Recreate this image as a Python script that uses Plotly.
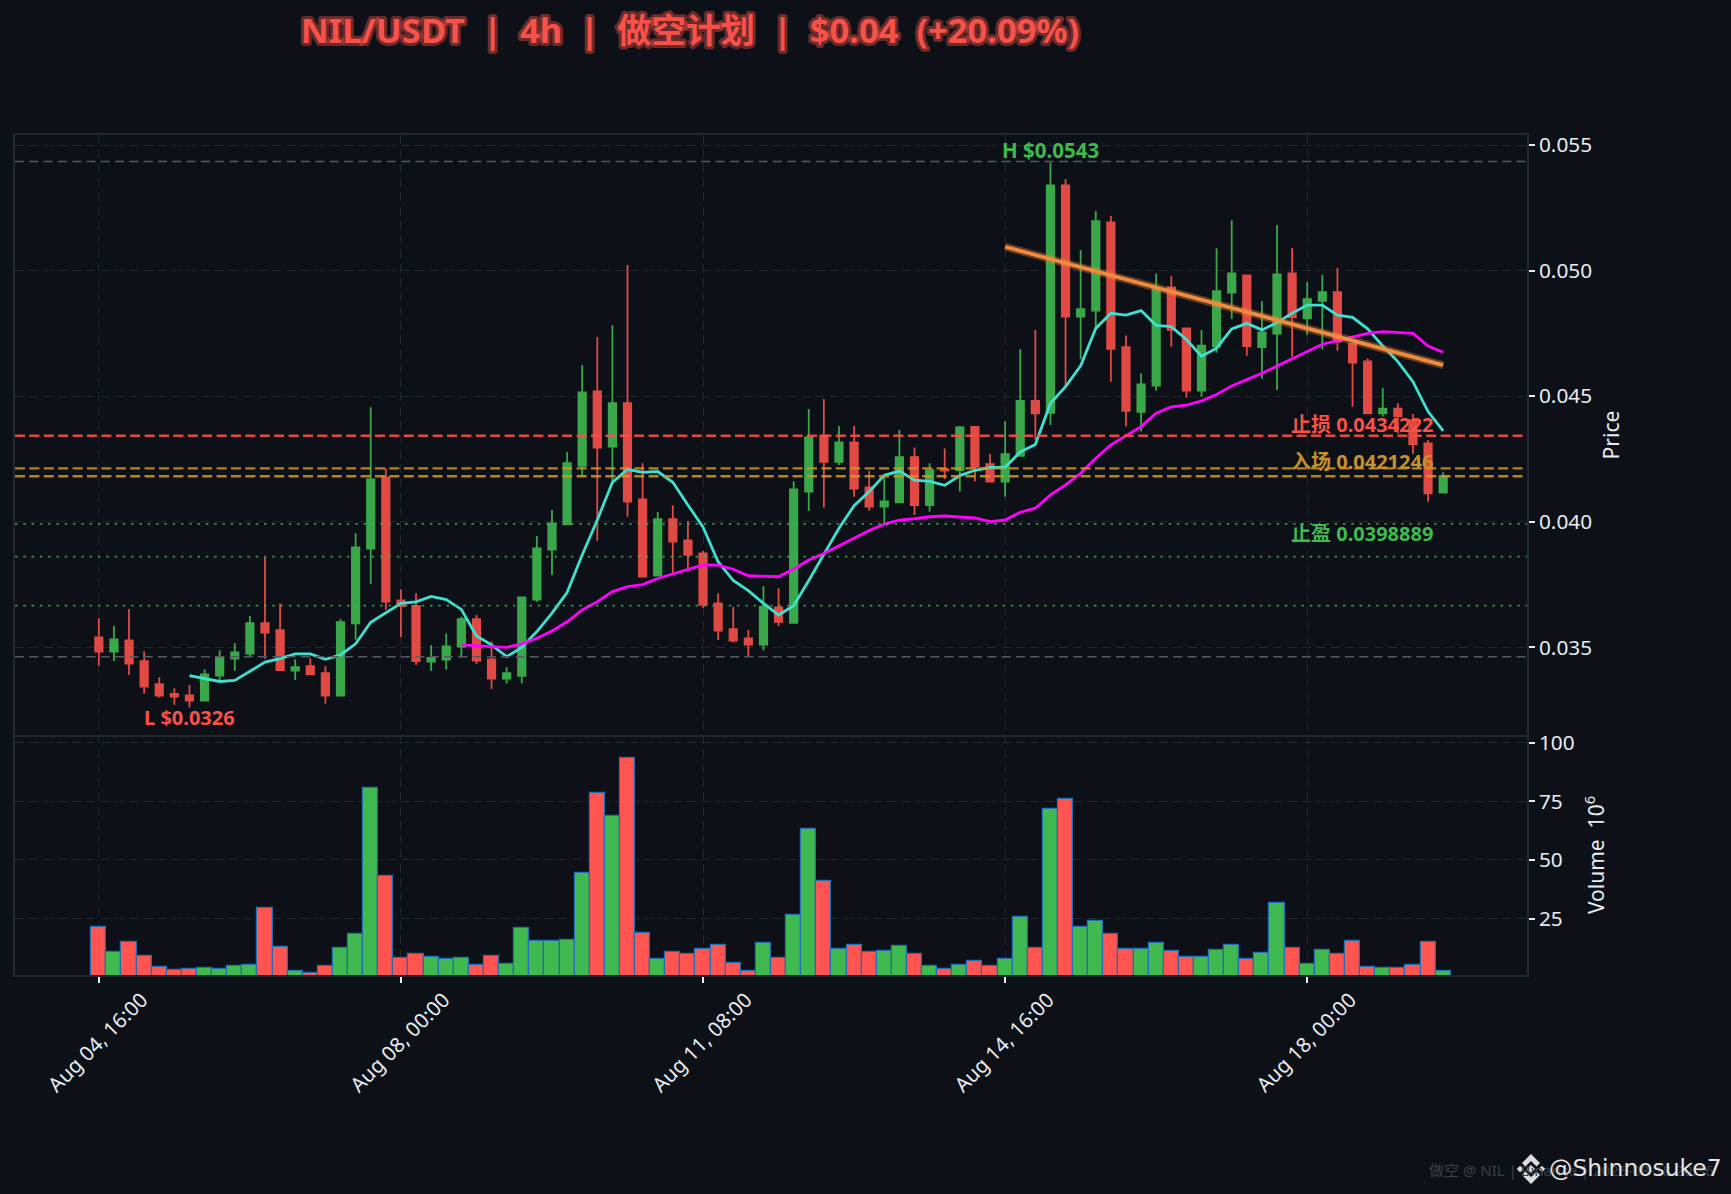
# NIL/USDT 4h short plan chart

import pandas
import plotly.graph_objects as go
from plotly.subplots import make_subplots

BG = "#0d1117"
GREEN = "#3fb950"
RED = "#f85149"
BAR_RED = "#ff5450"
GOLD = "#c8922a"
GRID = "#22272e"
TEXT = "#e6edf3"
FONT = "Noto Sans, Noto Sans CJK SC, sans-serif"

dates = pandas.date_range("2025-08-04 16:00", periods=90, freq="4h")

opens = [
    .03540, .03483, .03528, .03445, .03353, .03315, .03309, .03288, .03388, .03455,
    .03475, .03596, .03568, .03407, .03425, .03397, .03308, .03596, .03893, .04177,
    .03687, .03665, .03443, .03451, .03503, .03612, .03452, .03376, .03387, .03690,
    .03889, .03990, .04223, .04519, .04299, .04472, .04089, .03786, .04010, .03926,
    .03874, .03675, .03572, .03536, .03511, .03659, .03598, .04120, .04343, .04239,
    .04316, .04137, .04060, .04077, .04257, .04066, .04210, .04206, .04378, .04229,
    .04160, .04262, .04481, .04434, .05339, .04817, .04841, .05192, .04695, .04438,
    .04542, .04933, .04770, .04522, .04697, .04912, .04981, .04695, .04749, .04989,
    .04810, .04880, .04914, .04708, .04639, .04432, .04450, .04405, .04312, .04116,
]
highs = [
    .03616, .03585, .03653, .03484, .03381, .03337, .03350, .03413, .03488, .03516,
    .03625, .03859, .03675, .03453, .03457, .03426, .03612, .03954, .04456, .04213,
    .03731, .03715, .03508, .03555, .03622, .03629, .03523, .03421, .03699, .03943,
    .04047, .04278, .04624, .04736, .04783, .05022, .04233, .04039, .04066, .04003,
    .03884, .03715, .03662, .03569, .03744, .03735, .04161, .04449, .04489, .04381,
    .04381, .04202, .04180, .04365, .04296, .04233, .04292, .04381, .04381, .04270,
    .04401, .04688, .04764, .05431, .05365, .05082, .05237, .05217, .04742, .04591,
    .04989, .04979, .04770, .04764, .05089, .05201, .04981, .04879, .05182, .05090,
    .04955, .04983, .05010, .04713, .04651, .04533, .04472, .04429, .04326, .04197,
]
lows = [
    .03427, .03446, .03390, .03315, .03300, .03271, .03260, .03284, .03370, .03407,
    .03466, .03455, .03407, .03370, .03392, .03275, .03308, .03530, .03752, .03649,
    .03541, .03430, .03406, .03411, .03459, .03434, .03334, .03356, .03356, .03682,
    .03788, .03990, .04180, .03924, .04160, .04020, .03779, .03782, .03795, .03801,
    .03658, .03529, .03519, .03463, .03487, .03585, .03598, .04043, .04056, .04226,
    .04100, .04044, .03994, .04077, .04027, .04040, .04170, .04120, .04160, .04156,
    .04100, .04262, .04328, .04385, .04538, .04647, .04770, .04558, .04379, .04359,
    .04522, .04697, .04494, .04498, .04673, .04807, .04661, .04569, .04525, .04657,
    .04744, .04688, .04681, .04458, .04432, .04419, .04352, .04270, .04080, .04116,
]
closes = [
    .03483, .03532, .03435, .03344, .03308, .03304, .03288, .03392, .03462, .03480,
    .03596, .03559, .03409, .03421, .03392, .03308, .03600, .03898, .04169, .03682,
    .03664, .03445, .03458, .03504, .03612, .03447, .03376, .03397, .03699, .03894,
    .03994, .04233, .04515, .04295, .04472, .04080, .03782, .04010, .03921, .03868,
    .03669, .03567, .03527, .03511, .03662, .03602, .04129, .04336, .04239, .04316,
    .04132, .04060, .04081, .04257, .04066, .04206, .04204, .04376, .04219, .04160,
    .04269, .04481, .04432, .05339, .04817, .04847, .05197, .04689, .04442, .04547,
    .04925, .04764, .04522, .04701, .04918, .04989, .04699, .04754, .04985, .04814,
    .04886, .04914, .04717, .04634, .04432, .04450, .04421, .04308, .04113, .04182,
]
volumes = [
    21.3, 10.7, 15.0, 8.9, 4.2, 2.9, 3.5, 3.9, 3.5, 4.6,
    5.2, 29.6, 12.7, 2.5, 1.6, 4.6, 12.4, 18.4, 80.9, 43.3,
    8.2, 9.7, 8.5, 7.6, 8.2, 5.0, 8.9, 5.5, 20.9, 15.4,
    15.4, 15.9, 44.4, 78.4, 68.8, 93.6, 18.9, 7.6, 10.7, 9.7,
    11.9, 13.6, 5.9, 2.5, 14.6, 8.2, 26.6, 63.0, 41.1, 12.0,
    13.6, 10.7, 11.2, 13.3, 9.9, 4.7, 3.5, 5.2, 6.9, 4.7,
    7.7, 25.7, 12.4, 71.9, 76.2, 21.4, 24.0, 18.4, 12.0, 12.0,
    14.6, 11.2, 8.6, 8.6, 11.6, 13.7, 7.7, 10.3, 31.7, 12.4,
    5.6, 11.6, 9.9, 15.4, 4.3, 3.9, 3.9, 5.2, 15.0, 2.7,
]
# first value belongs to candle 6
fast_ma = [
    .03387, .03375, .03364, .03368, .03405, .03441, .03455, .03474, .03474, .03452,
    .03470, .03514, .03600, .03636, .03675, .03681, .03703, .03690, .03651, .03545,
    .03510, .03463, .03500, .03563, .03636, .03718, .03868, .04007, .04157, .04209,
    .04197, .04200, .04157, .04067, .03978, .03841, .03766, .03726, .03675, .03629,
    .03666, .03766, .03868, .03974, .04064, .04120, .04185, .04202, .04166, .04161,
    .04145, .04184, .04205, .04216, .04217, .04278, .04308, .04472, .04538, .04621,
    .04770, .04830, .04823, .04841, .04782, .04777, .04726, .04659, .04691, .04768,
    .04790, .04764, .04793, .04830, .04863, .04863, .04823, .04814, .04768, .04700,
    .04638, .04558, .04439, .04362,
]
# first value belongs to candle 24
slow_ma = [
    .03510, .03508, .03503, .03500, .03514, .03536, .03565, .03602, .03649, .03682,
    .03722, .03742, .03750, .03774, .03793, .03812, .03828, .03827, .03811, .03785,
    .03784, .03781, .03812, .03848, .03874, .03904, .03934, .03965, .03991, .04007,
    .04012, .04020, .04023, .04018, .04015, .04001, .04007, .04038, .04054, .04107,
    .04147, .04193, .04253, .04306, .04342, .04379, .04432, .04458, .04464, .04481,
    .04507, .04541, .04566, .04591, .04620, .04648, .04677, .04707, .04721, .04737,
    .04750, .04757, .04754, .04750, .04700, .04675,
]
trend_values = [0.05095, 0.04624]
stop_level = 0.0434222
entry_levels = [0.0421246, 0.04181]
target_levels = [0.03992, 0.03861, 0.03666]
extreme_levels = [0.05434, 0.03463]
price_ticks = [0.035, 0.040, 0.045, 0.050, 0.055]
volume_ticks = [25, 50, 75, 100]

bar_colors = [GREEN if c >= o else BAR_RED for o, c in zip(opens, closes)]

fig = make_subplots(rows=2, cols=1, shared_xaxes=True, vertical_spacing=0, row_heights=[600, 240])

fig.add_trace(go.Candlestick(
    x=dates, open=opens, high=highs, low=lows, close=closes, opacity=0.9,
    increasing=dict(line=dict(color=GREEN, width=1.8), fillcolor=GREEN),
    decreasing=dict(line=dict(color=RED, width=1.8), fillcolor=RED),
), row=1, col=1)
fig.add_trace(go.Scatter(x=dates[6:], y=fast_ma, mode="lines", line=dict(color="#40e0d0", width=2.8)), row=1, col=1)
fig.add_trace(go.Scatter(x=dates[24:], y=slow_ma, mode="lines", line=dict(color="#ff00ff", width=2.8)), row=1, col=1)

# trend line has a wide faint band under it
trend_x = [dates[60], dates[89]]
fig.add_trace(go.Scatter(x=trend_x, y=trend_values, mode="lines", line=dict(color="rgba(240,136,62,0.35)", width=8)), row=1, col=1)
fig.add_trace(go.Scatter(x=trend_x, y=trend_values, mode="lines", line=dict(color="#f08c3e", width=3.8)), row=1, col=1)

fig.add_trace(go.Bar(
    x=dates, y=volumes, marker=dict(color=bar_colors, line=dict(color="#1f6fb5", width=1.2)),
), row=2, col=1)

for level in extreme_levels:
    fig.add_hline(y=level, row=1, col=1, line=dict(color="#555a60", width=1.5, dash="9px,5.3px"))
fig.add_hline(y=stop_level, row=1, col=1, line=dict(color="rgba(248,81,73,0.9)", width=2.4, dash="10px,4.4px"))
for level in entry_levels:
    fig.add_hline(y=level, row=1, col=1, line=dict(color="rgba(210,153,34,0.85)", width=2.4, dash="10px,4.4px"))
for level in target_levels:
    fig.add_hline(y=level, row=1, col=1, line=dict(color="rgba(63,185,80,0.8)", width=1.8, dash="2.4px,5.9px"))


def label(text, x, y, color, size=20, **kwargs):
    fig.add_annotation(
        text=text, x=x, y=y, xref="x", yref="y", showarrow=False,
        font=dict(family=FONT, size=size, color=color, weight="bold"), **kwargs,
    )


label("H $0.0543", dates[63], highs[63], GREEN, size=20.5, xanchor="center", yshift=12)
label("L $0.0326", dates[6], lows[6], RED, xanchor="center", yshift=-10)
label("止损 0.0434222", dates[88], stop_level, RED, xanchor="right", xshift=7, yshift=11)
label("入场 0.0421246", dates[88], entry_levels[0], GOLD, xanchor="right", xshift=7, yshift=7)
label("止盈 0.0398889", dates[88], target_levels[0], GREEN, xanchor="right", xshift=7, yshift=-10)


# page pixels to plot fractions, for the marks that live outside the axes
def px(x):
    return (x - 15) / 1512


def py(y):
    return (975 - y) / 840


fig.add_annotation(
    text="做空 @ NIL | Binance | 2025-08-18 20:36", x=px(1716), y=py(1170), xref="paper", yref="paper",
    xanchor="right", yanchor="middle", showarrow=False, font=dict(family=FONT, size=15, color="#3a3f46"),
)
fig.add_annotation(
    text="@Shinnosuke7", x=px(1724), y=py(1168), xref="paper", yref="paper",
    xanchor="right", yanchor="middle", showarrow=False, font=dict(family="DejaVu Sans", size=23.4, color="#e4e4e4"),
)

# exchange logo beside the handle
logo_pieces = [
    [(0, .27), (.27, 0), (0, -.27), (-.27, 0)],
    [(-.73, .22), (-.51, 0), (-.73, -.22), (-.95, 0)],
    [(.73, .22), (.51, 0), (.73, -.22), (.95, 0)],
    [(0, 1), (.6, .4), (.37, .17), (0, .54), (-.37, .17), (-.6, .4)],
    [(0, -1), (.6, -.4), (.37, -.17), (0, -.54), (-.37, -.17), (-.6, -.4)],
]
for piece in logo_pieces:
    path = "M" + " L".join(f"{px(1531 + a * 15)} {py(1169 - b * 15)}" for a, b in piece) + " Z"
    fig.add_shape(type="path", path=path, xref="paper", yref="paper", fillcolor="#dcdcdc", line=dict(width=0))

axis_common = dict(
    showgrid=True, gridcolor=GRID, griddash="9px,5.3px", gridwidth=1.3, zeroline=False,
    showline=True, linecolor=GRID, linewidth=1.5,
)
fig.update_xaxes(
    **axis_common, range=[dates[0] - pandas.Timedelta(hours=22.2), dates[89] + pandas.Timedelta(hours=22.2)],
    tickvals=[dates[0], dates[20], dates[40], dates[60], dates[80]], tickformat="%b %d, %H:%M",
    rangeslider_visible=False,
)
fig.update_xaxes(row=1, col=1, mirror=True)
fig.update_xaxes(
    row=2, col=1, mirror=False, tickangle=-45, ticks="outside", ticklen=6, tickcolor=TEXT, tickwidth=1.5,
    tickfont=dict(family=FONT, size=20.5, color=TEXT), ticklabelshift=43, ticklabelstandoff=-3,
)
fig.update_yaxes(
    **axis_common, mirror=True, side="right", ticks="outside", ticklen=6, tickcolor=TEXT, tickwidth=1.5,
    tickfont=dict(family=FONT, size=20.8, color=TEXT),
)
fig.update_yaxes(
    row=1, col=1, range=[0.03151, 0.0554], tickvals=price_ticks, tickformat=".3f",
    title=dict(text="Price", font=dict(family=FONT, size=21, color=TEXT), standoff=13),
)
fig.update_yaxes(
    row=2, col=1, range=[0.9, 103.3], tickvals=volume_ticks,
    title=dict(text="Volume\u00a0\u00a010<sup>6</sup>", font=dict(family=FONT, size=21, color=TEXT), standoff=16),
)

fig.update_layout(
    width=1731, height=1194, margin=dict(l=15, r=204, t=135, b=219),
    paper_bgcolor=BG, plot_bgcolor=BG, showlegend=False, bargap=0,
    title=dict(
        text="<b>NIL/USDT  |  4h  |  做空计划  |  $0.04  (+20.09%)</b>",
        x=690 / 1731, xanchor="center", xref="container",
        y=1 - 31 / 1194, yanchor="middle", yref="container",
        font=dict(family=FONT, size=34.5, color=RED),
    ),
)

# page margin off, and the dark red halo round the title
page_script = """
document.body.style.margin = '0';
document.body.style.overflow = 'hidden';
document.querySelectorAll('.gtitle').forEach(function (t) {
    t.style.stroke = 'rgba(248,81,73,0.42)';
    t.style.strokeWidth = '6px';
    t.style.strokeLinejoin = 'round';
    t.style.paintOrder = 'stroke';
});
"""
fig.write_html("out.html", post_script=page_script, config={"displayModeBar": False})
